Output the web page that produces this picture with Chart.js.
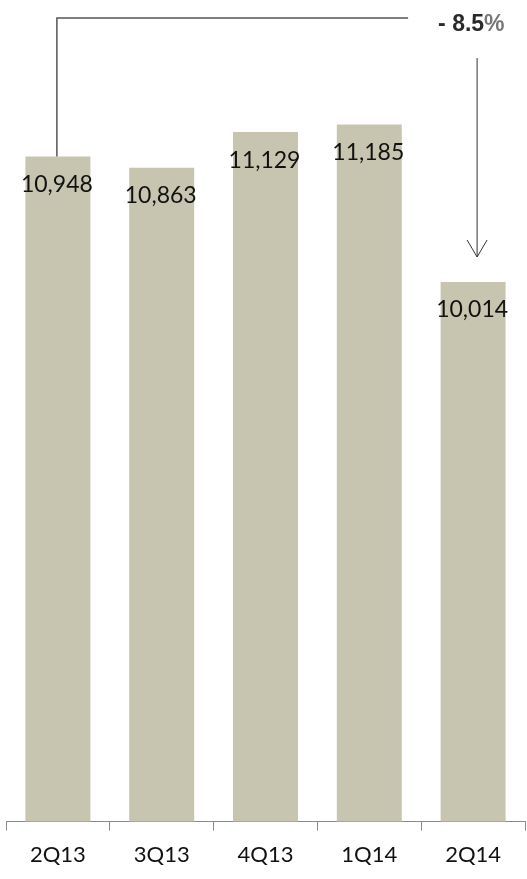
<!DOCTYPE html>
<html>
<head>
<meta charset="utf-8">
<script src="https://cdn.jsdelivr.net/npm/chart.js@4/dist/chart.umd.min.js"></script>
<style>
  html, body { margin: 0; padding: 0; background: #fff; }
  #wrap { width: 527px; height: 879px; position: relative; }
</style>
</head>
<body>
<div id="wrap"><canvas id="sales"></canvas></div>
<script>
// Quarterly volume, 2Q13 – 2Q14
const quarters = ['2Q13', '3Q13', '4Q13', '1Q14', '2Q14'];
const volumes = [10948, 10863, 11129, 11185, 10014];
const changeLabel = '- 8.5';

const barColor = '#C7C5AF';

// value labels inside the top of each bar
const valueLabels = {
    id: 'valueLabels',
    afterDatasetsDraw(chart) {
        const ctx = chart.ctx;
        const meta = chart.getDatasetMeta(0);
        ctx.save();
        ctx.font = '23px Lato';
        ctx.fillStyle = '#111';
        ctx.textAlign = 'center';
        ctx.textBaseline = 'middle';
        meta.data.forEach((bar, i) => {
            ctx.fillText(volumes[i].toLocaleString('en-US'), bar.x - 1, bar.y + 28);
        });
        ctx.restore();
    },
};

// bracket from first bar to last bar with the % change
const changeArrow = {
    id: 'changeArrow',
    afterDatasetsDraw(chart) {
        const ctx = chart.ctx;
        const meta = chart.getDatasetMeta(0);
        const first = meta.data[0];
        const last = meta.data[meta.data.length - 1];
        const topY = chart.chartArea.top + 3;
        const x0 = first.x - 1;
        const x1 = last.x + 4;

        ctx.save();
        ctx.strokeStyle = '#555';
        ctx.lineWidth = 1.5;
        ctx.beginPath();
        ctx.moveTo(x0, first.y);
        ctx.lineTo(x0, topY);
        ctx.lineTo(x1 - 69, topY);
        ctx.stroke();

        ctx.font = 'bold 23px "Liberation Sans"';
        ctx.textBaseline = 'middle';
        ctx.textAlign = 'left';
        const tx = x1 - 39;
        ctx.fillStyle = '#2a2a2a';
        ctx.fillText(changeLabel, tx, topY + 7);
        const w = ctx.measureText(changeLabel).width;
        ctx.fillStyle = '#777';
        ctx.fillText('%', tx + w, topY + 7);

        const arrowTop = topY + 40;
        const arrowTip = last.y - 25;
        ctx.strokeStyle = '#333';
        ctx.lineWidth = 1;
        ctx.beginPath();
        ctx.moveTo(x1, arrowTop);
        ctx.lineTo(x1, arrowTip);
        ctx.moveTo(x1 - 10, arrowTip - 17);
        ctx.lineTo(x1, arrowTip);
        ctx.lineTo(x1 + 10, arrowTip - 17);
        ctx.stroke();
        ctx.restore();
    },
};

new Chart(document.getElementById('sales').getContext('2d'), {
    type: 'bar',
    data: {
        labels: quarters,
        datasets: [{
            data: volumes,
            backgroundColor: barColor,
            borderWidth: 0,
            categoryPercentage: 1,
            barPercentage: 0.626,
        }],
    },
    options: {
        responsive: true,
        maintainAspectRatio: false,
        animation: false,
        layout: { padding: { top: 15, left: 6, right: 2, bottom: 0 } },
        plugins: {
            legend: { display: false },
            tooltip: { enabled: false },
        },
        scales: {
            x: {
                offset: true,
                border: { color: '#8a8a8a', width: 1 },
                grid: {
                    offset: true,
                    drawOnChartArea: false,
                    tickLength: 9,
                    color: '#8a8a8a',
                },
                ticks: {
                    color: '#111',
                    padding: 11,
                    font: { family: 'Lato', size: 22 },
                },
            },
            y: {
                display: false,
                min: 6000,
                max: 12000,
            },
        },
    },
    plugins: [valueLabels, changeArrow],
});
</script>
</body>
</html>
